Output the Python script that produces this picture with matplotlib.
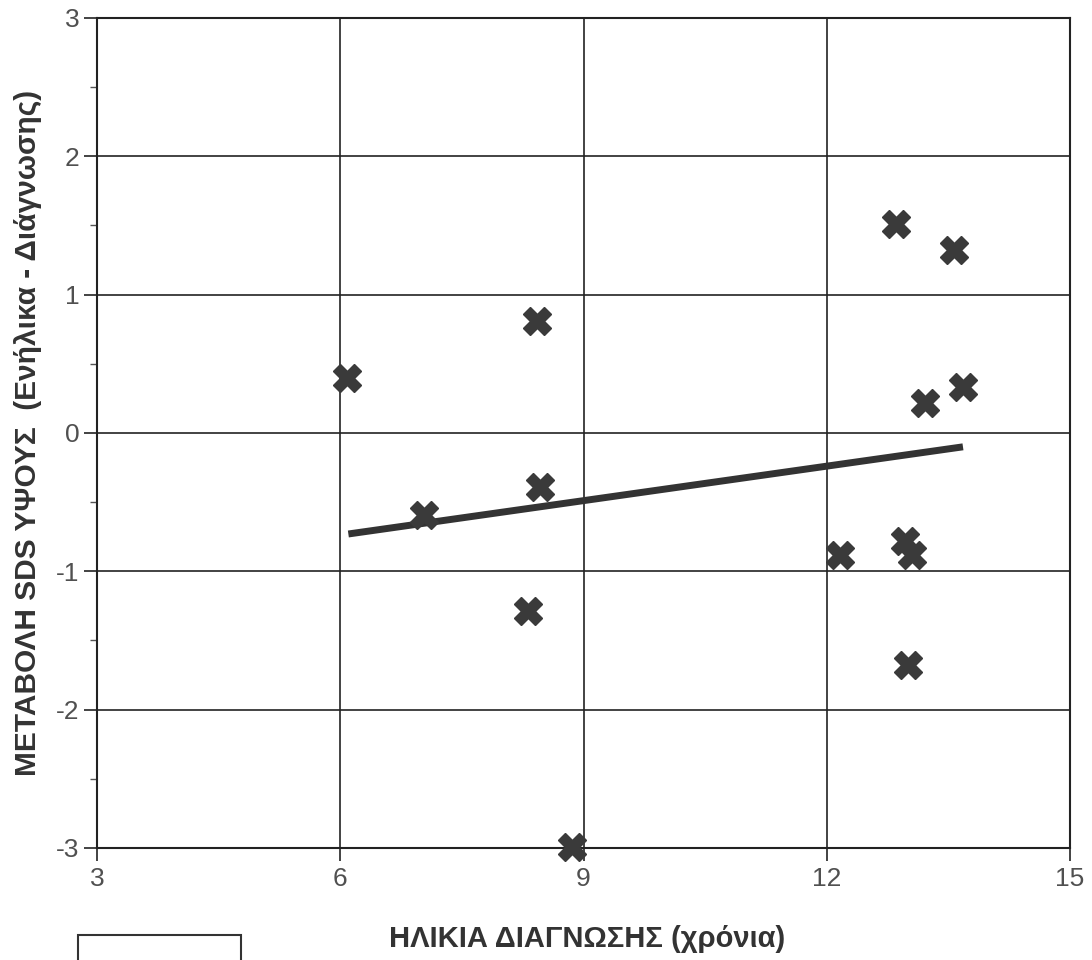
import matplotlib
matplotlib.use('Agg')
import matplotlib.pyplot as plt
from matplotlib.patches import Rectangle
from matplotlib.ticker import MultipleLocator

# Data
age_dx = [6.08, 7.03, 8.43, 8.46, 8.31, 8.86, 12.16, 12.86, 13.57, 13.21, 13.68, 12.96, 13.05, 13.0]
sds_change = [0.40, -0.59, 0.81, -0.39, -1.29, -2.99, -0.88, 1.51, 1.32, 0.22, 0.33, -0.78, -0.88, -1.68]

# regression line end points
fit_x = [6.1, 13.68]
fit_y = [-0.73, -0.10]

x_ticks = [3, 6, 9, 12, 15]
y_ticks = [-3, -2, -1, 0, 1, 2, 3]

plt.rcParams['font.family'] = ['Liberation Sans', 'DejaVu Sans']
plt.rcParams['axes.unicode_minus'] = False

fig = plt.figure(figsize=(10.92, 9.6), dpi=100)
ax = fig.add_axes([97/1092, 1 - 848/960, (1070-97)/1092, (848-18)/960])

ax.plot(fit_x, fit_y, color='#333333', lw=5, solid_capstyle='butt', zorder=3)
ax.plot(age_dx, sds_change, ls='none', marker='X', ms=20, color='#3a3a3a',
        markeredgecolor='#3a3a3a', zorder=4, clip_on=False)

ax.set_xlim(3, 15)
ax.set_ylim(-3, 3)
ax.set_xticks(x_ticks)
ax.set_yticks(y_ticks)
ax.yaxis.set_minor_locator(MultipleLocator(0.5))
ax.grid(True, which='major', color='#222222', lw=1.2)
ax.set_axisbelow(True)

for s in ax.spines.values():
    s.set_color('#222222')
    s.set_linewidth(1.5)

ax.tick_params(which='major', direction='out', length=9.5, width=1.2, color='#222222',
               labelsize=19, labelcolor='#505050')
ax.tick_params(axis='x', which='major', pad=4)
ax.tick_params(axis='y', which='major', pad=3)
ax.tick_params(which='minor', direction='out', length=5, width=1.0, color='#555555')

ax.set_xlabel('ΗΛΙΚΙΑ ΔΙΑΓΝΩΣΗΣ (χρόνια)', fontsize=21, fontweight='bold',
              color='#333333')
ax.xaxis.set_label_coords(0.504, -0.093)
ax.set_ylabel('ΜΕΤΑΒΟΛΗ SDS ΥΨΟΥΣ  (Ενήλικα - Διάγνωσης)', fontsize=21.5,
              fontweight='bold', color='#333333')
ax.yaxis.set_label_coords(-0.057, 0.5)

# empty legend frame at bottom left (cut off by the page edge)
fig.patches.append(Rectangle((78/1092, -0.02), (241-78)/1092, (0.02 + 1 - 935/960),
                             transform=fig.transFigure, fill=False,
                             edgecolor='#333333', lw=1.5))

fig.savefig('out.png', dpi=100, facecolor='white')
